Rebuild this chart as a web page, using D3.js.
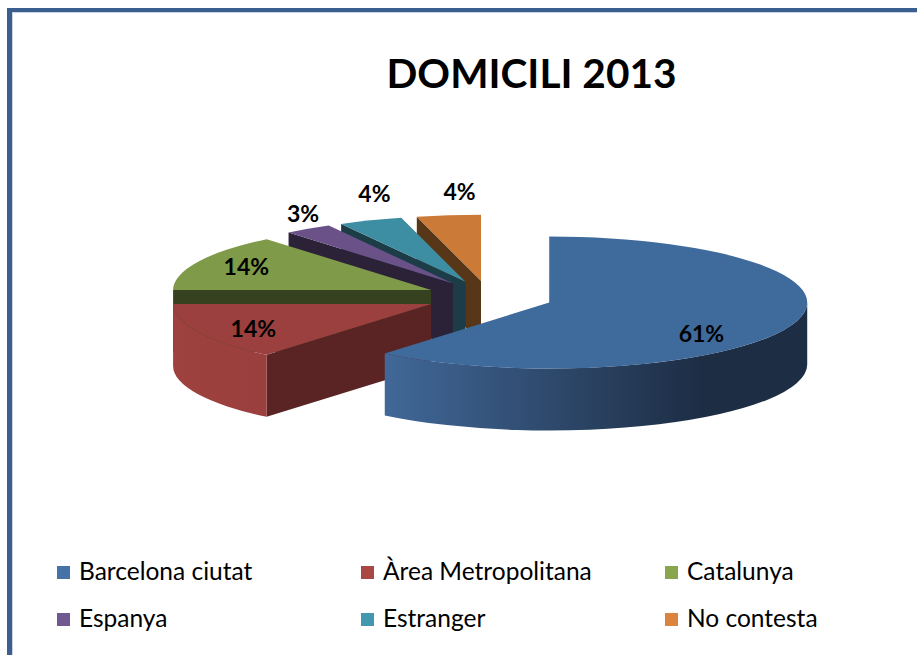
<!DOCTYPE html>
<html>
<head>
<meta charset="utf-8">
<script src="https://cdn.jsdelivr.net/npm/d3@7"></script>
<style>
  html, body { margin: 0; padding: 0; background: #fff; }
  svg { display: block; }
</style>
</head>
<body>
<div id="chart"></div>
<script>
// domicili-2013 — exploded 3D pie, drawn with d3.pie + projected ellipse paths

var categories = ['Barcelona ciutat', 'Àrea Metropolitana', 'Catalunya', 'Espanya', 'Estranger', 'No contesta'];
var values     = [61, 14, 14, 3, 4, 4];
var valueLabels = ['61%', '14%', '14%', '3%', '4%', '4%'];
var chartTitle = 'DOMICILI 2013';

(function() {

  var W = 917, H = 655;

  // pie geometry (projected)
  var CX = 489, CY = 297;
  var RX = 258, RY = 66;
  var DEPTH   = 62;
  var EXPLODE = 64;

  var TOP  = ['#3f6a9c', '#9b403e', '#7f9a48', '#6a5187', '#3d8da3', '#cb7a37'];
  var SIDE = ['#1d2d44', '#5b2424', '#364120', '#2b2238', '#1c3d48', '#583719'];
  var LEG  = ['#4572a7', '#aa4643', '#89a54e', '#71588f', '#4198af', '#db843d'];

  // label tweaks (x, y) after geometric placement
  var LABEL_NUDGE = [[-42, 14], [9, 3], [2, -1], [-5, 2], [4, -8], [11, -4]];

  var FONT = 'Lato, "Open Sans", sans-serif';

  var svg = d3.select('#chart').append('svg')
    .attr('width', W).attr('height', H)
    .style('background', '#fff');

  var defs = svg.append('defs');

  // ── Frame ─────────────────────────────────────────────────────────────────
  svg.append('rect').attr('x', 7).attr('y', 8).attr('width', W).attr('height', 4).attr('fill', '#3a5f8f');
  svg.append('rect').attr('x', 7).attr('y', 8).attr('width', 5).attr('height', H).attr('fill', '#3a5f8f');
  svg.append('rect').attr('x', 12).attr('y', 12).attr('width', W).attr('height', 1).attr('fill', '#c8d4e4');
  svg.append('rect').attr('x', 12).attr('y', 12).attr('width', 1).attr('height', H).attr('fill', '#c8d4e4');

  // ── Title ─────────────────────────────────────────────────────────────────
  svg.append('text')
    .attr('x', 531.5).attr('y', 88)
    .attr('text-anchor', 'middle')
    .attr('font-family', FONT).attr('font-weight', 'bold').attr('font-size', '41px')
    .attr('textLength', 290).attr('lengthAdjust', 'spacingAndGlyphs')
    .attr('fill', '#000')
    .text(chartTitle);

  // ── Slices ────────────────────────────────────────────────────────────────
  var pie = d3.pie().sort(null).value(function(d) { return d; })
    .startAngle(0).endAngle(2 * Math.PI);
  var arcs = pie(values);

  arcs.forEach(function(a, i) {
    var mid = (a.startAngle + a.endAngle) / 2;
    a.cx = CX + EXPLODE * Math.sin(mid);
    a.cy = CY - EXPLODE * (RY / RX) * Math.cos(mid);
    a.mid = mid;
    a.i = i;
  });

  function pt(a, ang, z) {
    return [a.cx + RX * Math.sin(ang), a.cy - RY * Math.cos(ang) + (z || 0)];
  }

  function topPath(a) {
    var p0 = pt(a, a.startAngle), p1 = pt(a, a.endAngle);
    var large = (a.endAngle - a.startAngle) > Math.PI ? 1 : 0;
    var p = d3.path();
    p.moveTo(a.cx, a.cy);
    p.lineTo(p0[0], p0[1]);
    return p.toString() + 'A' + RX + ',' + RY + ' 0 ' + large + ' 1 ' + p1[0] + ',' + p1[1] + 'Z';
  }

  function wallPath(a) {
    var a0 = Math.max(a.startAngle, Math.PI / 2);
    var a1 = Math.min(a.endAngle, 3 * Math.PI / 2);
    if (a1 <= a0) return null;
    var t0 = pt(a, a0), t1 = pt(a, a1), b1 = pt(a, a1, DEPTH), b0 = pt(a, a0, DEPTH);
    return 'M' + t0[0] + ',' + t0[1] +
      'A' + RX + ',' + RY + ' 0 0 1 ' + t1[0] + ',' + t1[1] +
      'L' + b1[0] + ',' + b1[1] +
      'A' + RX + ',' + RY + ' 0 0 0 ' + b0[0] + ',' + b0[1] + 'Z';
  }

  function cutPath(a, ang) {
    var e = pt(a, ang);
    var p = d3.path();
    p.moveTo(a.cx, a.cy);
    p.lineTo(e[0], e[1]);
    p.lineTo(e[0], e[1] + DEPTH);
    p.lineTo(a.cx, a.cy + DEPTH);
    p.closePath();
    return p.toString();
  }

  // gradients for the outer walls
  arcs.forEach(function(a, i) {
    var a0 = Math.max(a.startAngle, Math.PI / 2);
    var a1 = Math.min(a.endAngle, 3 * Math.PI / 2);
    if (a1 <= a0) return;
    var xs = [pt(a, a0)[0], pt(a, a1)[0], pt(a, Math.PI)[0]];
    if (a0 <= Math.PI / 2 + 1e-6) xs.push(a.cx + RX);
    var x0 = d3.min(xs), x1 = d3.max(xs);
    var g = defs.append('linearGradient').attr('id', 'wall' + i)
      .attr('gradientUnits', 'userSpaceOnUse')
      .attr('x1', x0).attr('x2', x1).attr('y1', 0).attr('y2', 0);
    var c = d3.color(TOP[i]);
    if (i === 0) {
      g.append('stop').attr('offset', 0).attr('stop-color', '#416898');
      g.append('stop').attr('offset', 0.75).attr('stop-color', SIDE[0]);
      g.append('stop').attr('offset', 1).attr('stop-color', SIDE[0]);
    } else {
      g.append('stop').attr('offset', 0).attr('stop-color', c.brighter(0.05));
      g.append('stop').attr('offset', 1).attr('stop-color', c.darker(0.15));
    }
  });

  // back-to-front order
  var order = d3.range(arcs.length).sort(function(p, q) {
    return -Math.cos(arcs[p].mid) - -Math.cos(arcs[q].mid);
  });
  // the big slice overlaps everything in front of it
  order = order.filter(function(i) { return i !== 0; }).concat([0]);

  var sideG = svg.append('g');
  var topG  = svg.append('g');

  order.forEach(function(i) {
    var a = arcs[i];
    if (Math.sin(a.startAngle) < -1e-6) {
      sideG.append('path').attr('d', cutPath(a, a.startAngle)).attr('fill', SIDE[i]);
    }
    if (Math.sin(a.endAngle) > 1e-6) {
      sideG.append('path').attr('d', cutPath(a, a.endAngle)).attr('fill', SIDE[i]);
    }
    var w = wallPath(a);
    if (w) sideG.append('path').attr('d', w).attr('fill', 'url(#wall' + i + ')');
  });

  order.forEach(function(i) {
    topG.append('path').attr('d', topPath(arcs[i])).attr('fill', TOP[i]);
  });

  // ── Data labels ───────────────────────────────────────────────────────────
  var labG = svg.append('g');
  arcs.forEach(function(a, i) {
    var inside = a.value >= 10;
    var fx = inside ? 0.8 : 1.0, fy = inside ? 0.8 : 1.3;
    var x = a.cx + RX * fx * Math.sin(a.mid) + LABEL_NUDGE[i][0];
    var y = a.cy - RY * fy * Math.cos(a.mid) + LABEL_NUDGE[i][1];
    labG.append('text')
      .attr('x', x).attr('y', y + 8)
      .attr('text-anchor', 'middle')
      .attr('font-family', FONT).attr('font-weight', 'bold').attr('font-size', '23px')
      .attr('fill', '#000')
      .text(valueLabels[i]);
  });

  // ── Legend ────────────────────────────────────────────────────────────────
  var legX = d3.scaleLinear().domain([0, 1]).range([57, 361]);
  var legY = d3.scaleLinear().domain([0, 1]).range([580, 627]);

  var leg = svg.append('g').selectAll('g').data(categories).enter().append('g')
    .attr('transform', function(d, i) {
      return 'translate(' + legX(i % 3) + ',' + legY(Math.floor(i / 3)) + ')';
    });

  leg.append('rect')
    .attr('x', 0).attr('y', -14).attr('width', 13).attr('height', 13)
    .attr('fill', function(d, i) { return LEG[i]; });

  leg.append('text')
    .attr('x', 22).attr('y', 0)
    .attr('font-family', FONT).attr('font-size', '24.5px')
    .attr('fill', '#000')
    .text(function(d) { return d; });

})();
</script>
</body>
</html>
